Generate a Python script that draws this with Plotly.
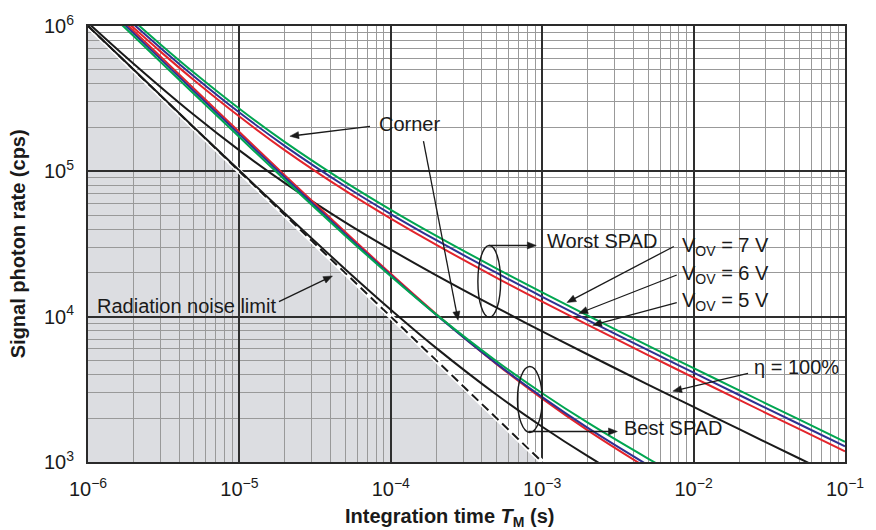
import math
import plotly.graph_objects as go

# ---------------- data ----------------
T_RAD = [1e-6, 1e-3]
RAD_LIMIT = [1e6, 1e3]

T_ETA = [1e-6, 2e-6, 5e-6, 1e-5, 2e-5, 5e-5, 1e-4, 2e-4, 5e-4, 1e-3, 2e-3, 5e-3, 1e-2, 2e-2, 5e-2, 1e-1]
ETA100_WORST = [1.052e6, 5.50e5, 2.448e5, 1.393e5, 8.30e4, 4.46e4, 2.894e4, 1.924e4, 1.152e4, 7922, 5492, 3412, 2392, 1681, 1057, 745.5]

T_ETA_BEST = [1e-6, 2e-6, 5e-6, 1e-5, 2e-5, 5e-5, 1e-4, 2e-4, 5e-4, 1e-3, 2e-3, 5e-3]
ETA100_BEST = [1.0013e6, 5.013e5, 2.013e5, 1.013e5, 5.128e4, 2.123e4, 1.117e4, 6077, 2902, 1749, 1097, 621]

T_WORST = [1.5e-6, 2e-6, 3e-6, 5e-6, 1e-5, 2e-5, 5e-5, 1e-4, 2e-4, 5e-4, 1e-3, 2e-3, 5e-3, 1e-2, 2e-2, 5e-2, 1e-1]
WORST_7V = [1.421e6, 1.086e6, 7.498e5, 4.782e5, 2.694e5, 1.588e5, 8.433e4, 5.438e4, 3.598e4, 2.144e4, 1.471e4, 1.018e4, 6318, 4425, 3108, 1954, 1377]
WORST_6V = [1.347e6, 1.0286e6, 7.093e5, 4.516e5, 2.537e5, 1.492e5, 7.896e4, 5.083e4, 3.358e4, 1.999e4, 1.370e4, 9481, 5881, 4117, 2891, 1818, 1281]
WORST_5V = [1.272e6, 9.711e5, 6.689e5, 4.250e5, 2.381e5, 1.395e5, 7.357e4, 4.725e4, 3.117e4, 1.852e4, 1.269e4, 8775, 5441, 3809, 2674, 1681, 1185]

T_BEST = [1.5e-6, 2e-6, 5e-6, 1e-5, 2e-5, 5e-5, 1e-4, 2e-4, 5e-4, 1e-3, 2e-3, 5e-3, 7e-3]
BEST_7V = [1.1355e6, 8.522e5, 3.422e5, 1.722e5, 8.717e4, 3.610e4, 1.899e4, 1.033e4, 4934, 2973, 1864, 1056, 866.5]
BEST_6V = [1.188e6, 8.916e5, 3.576e5, 1.796e5, 9.056e4, 3.712e4, 1.927e4, 1.028e4, 4751, 2793, 1715, 951, 775]
BEST_5V = [1.2346e6, 9.263e5, 3.713e5, 1.863e5, 9.377e4, 3.825e4, 1.971e4, 1.040e4, 4714, 2727, 1650, 901, 731]

X_TICKS = [1e-6, 1e-5, 1e-4, 1e-3, 1e-2, 1e-1]
X_TICK_TEXT = ["10<sup>−6</sup>", "10<sup>−5</sup>", "10<sup>−4</sup>",
               "10<sup>−3</sup>", "10<sup>−2</sup>", "10<sup>−1</sup>"]
Y_TICKS = [1e3, 1e4, 1e5, 1e6]
Y_TICK_TEXT = ["10<sup>3</sup>", "10<sup>4</sup>", "10<sup>5</sup>", "10<sup>6</sup>"]

X_RANGE = [1e-6, 1e-1]
Y_RANGE = [1e3, 1e6]

# ---------------- styling ----------------
FONT = "Liberation Sans, Arial, Helvetica, sans-serif"
RED = "#e3242b"
BLUE = "#2e3192"
GREEN = "#00a651"
BLACK = "#1a1a1a"
SHADE = "#dcdde1"

W, H = 876, 530
ML, MR, MT, MB = 88, 23, 19, 68
PW = W - ML - MR
PH = H - MT - MB


def px2paper(px, py):
    return (px - ML) / PW, (H - MB - py) / PH


def dom(xv, yv):
    lx0, lx1 = math.log10(X_RANGE[0]), math.log10(X_RANGE[1])
    ly0, ly1 = math.log10(Y_RANGE[0]), math.log10(Y_RANGE[1])
    return (math.log10(xv) - lx0) / (lx1 - lx0), (math.log10(yv) - ly0) / (ly1 - ly0)


fig = go.Figure()

# radiation noise limit: white underlay + dashed line
fig.add_trace(go.Scatter(x=T_RAD, y=RAD_LIMIT, mode="lines",
                         line=dict(color="white", width=5), hoverinfo="skip"))
fig.add_trace(go.Scatter(x=T_RAD, y=RAD_LIMIT, mode="lines",
                         line=dict(color=BLACK, width=2, dash="9px,5px"), hoverinfo="skip"))

# eta = 100 % curves
fig.add_trace(go.Scatter(x=T_ETA_BEST, y=ETA100_BEST, mode="lines",
                         line=dict(color=BLACK, width=2, shape="spline")))
fig.add_trace(go.Scatter(x=T_ETA, y=ETA100_WORST, mode="lines",
                         line=dict(color=BLACK, width=2, shape="spline")))

# best SPAD
for ys, c in [(BEST_5V, RED), (BEST_6V, BLUE), (BEST_7V, GREEN)]:
    fig.add_trace(go.Scatter(x=T_BEST, y=ys, mode="lines",
                             line=dict(color=c, width=2, shape="spline")))
# worst SPAD
for ys, c in [(WORST_5V, RED), (WORST_6V, BLUE), (WORST_7V, GREEN)]:
    fig.add_trace(go.Scatter(x=T_WORST, y=ys, mode="lines",
                             line=dict(color=c, width=2, shape="spline")))

# shaded region under the radiation noise limit
p0 = dom(T_RAD[0], RAD_LIMIT[0])
p1 = dom(T_RAD[1], RAD_LIMIT[1])
tri = f"M {p0[0]},{p0[1]} L {p0[0]},{p1[1]} L {p1[0]},{p1[1]} Z"
shapes = [dict(type="path", path=tri, xref="paper", yref="paper", layer="below",
               fillcolor=SHADE, line=dict(width=0))]

# ellipses
for (x0, y0, x1, y1) in [(482, 242, 505, 315), (522, 365, 547, 432)]:
    a0 = px2paper(x0, y1)
    a1 = px2paper(x1, y0)
    shapes.append(dict(type="circle", xref="paper", yref="paper", layer="above",
                       x0=a0[0], y0=a0[1], x1=a1[0], y1=a1[1],
                       line=dict(color=BLACK, width=1.4)))


def arrow(tail, head, hl=9.0, hw=3.6):
    tx, ty = tail
    hx, hy = head
    dx, dy = hx - tx, hy - ty
    n = math.hypot(dx, dy)
    ux, uy = dx / n, dy / n
    bx, by = hx - ux * hl, hy - uy * hl
    nx, ny = -uy, ux
    a = px2paper(tx, ty)
    b = px2paper(bx + ux * 1.0, by + uy * 1.0)
    shapes.append(dict(type="line", xref="paper", yref="paper", layer="above",
                       x0=a[0], y0=a[1], x1=b[0], y1=b[1],
                       line=dict(color=BLACK, width=1.3)))
    pts = [px2paper(hx, hy), px2paper(bx + nx * hw, by + ny * hw),
           px2paper(bx - nx * hw, by - ny * hw)]
    path = "M {} {} L {} {} L {} {} Z".format(pts[0][0], pts[0][1], pts[1][0], pts[1][1],
                                             pts[2][0], pts[2][1])
    shapes.append(dict(type="path", path=path, xref="paper", yref="paper", layer="above",
                       fillcolor=BLACK, line=dict(color=BLACK, width=0.5)))


arrow((373, 121), (292, 131))
arrow((427, 136), (462, 318))
arrow((493, 242), (541, 242))
arrow((533, 431), (623, 431))
arrow((281, 299), (335, 273))
arrow((680, 243), (572, 300))
arrow((683, 272), (584, 311))
arrow((683, 300), (598, 323))
arrow((755, 372), (679, 390))

annotations = []


def label(text, px, py, xanchor="left", size=20):
    x, y = px2paper(px, py)
    annotations.append(dict(x=x, y=y, xref="paper", yref="paper", text=text,
                            showarrow=False, xanchor=xanchor, yanchor="middle",
                            font=dict(family=FONT, size=size, color=BLACK)))


label("Corner", 413, 119, "center")
label("Worst SPAD", 550, 237)
label("Best SPAD", 628, 427)
label("Radiation noise limit", 95, 303)
label("V<sub>OV</sub> = 7 V", 686, 243)
label("V<sub>OV</sub> = 6 V", 686, 271)
label("V<sub>OV</sub> = 5 V", 686, 299)
label("η = 100%", 759, 365)

# axis titles
tx, ty = px2paper(453, 518)
annotations.append(dict(x=tx, y=ty, xref="paper", yref="paper",
                        text="<b>Integration time <i>T</i><sub>M</sub> (s)</b>",
                        showarrow=False, xanchor="center", yanchor="middle",
                        font=dict(family=FONT, size=20, color=BLACK)))
tx, ty = px2paper(17, 240)
annotations.append(dict(x=tx, y=ty, xref="paper", yref="paper",
                        text="<b>Signal photon rate (cps)</b>", textangle=-90,
                        showarrow=False, xanchor="center", yanchor="middle",
                        font=dict(family=FONT, size=20, color=BLACK)))

axis_common = dict(
    type="log", showgrid=True, gridcolor="#2e2e2e", gridwidth=1.5,
    minor=dict(dtick="D1", showgrid=True, gridcolor="#999999", gridwidth=1.3, ticks=""),
    showline=True, mirror=True, linecolor="#2a2a2a", linewidth=2,
    ticks="", zeroline=False, ticklabelstandoff=8,
    tickfont=dict(family=FONT, size=20, color=BLACK),
)

fig.update_layout(
    width=W, height=H,
    margin=dict(l=ML, r=MR, t=MT, b=MB),
    paper_bgcolor="white", plot_bgcolor="white",
    showlegend=False,
    xaxis=dict(range=[math.log10(X_RANGE[0]), math.log10(X_RANGE[1])],
               tickvals=X_TICKS, ticktext=X_TICK_TEXT, **axis_common),
    yaxis=dict(range=[math.log10(Y_RANGE[0]), math.log10(Y_RANGE[1])],
               tickvals=Y_TICKS, ticktext=Y_TICK_TEXT, **axis_common),
    shapes=shapes,
    annotations=annotations,
    font=dict(family=FONT, color=BLACK),
)

fig.write_html("out.html")
